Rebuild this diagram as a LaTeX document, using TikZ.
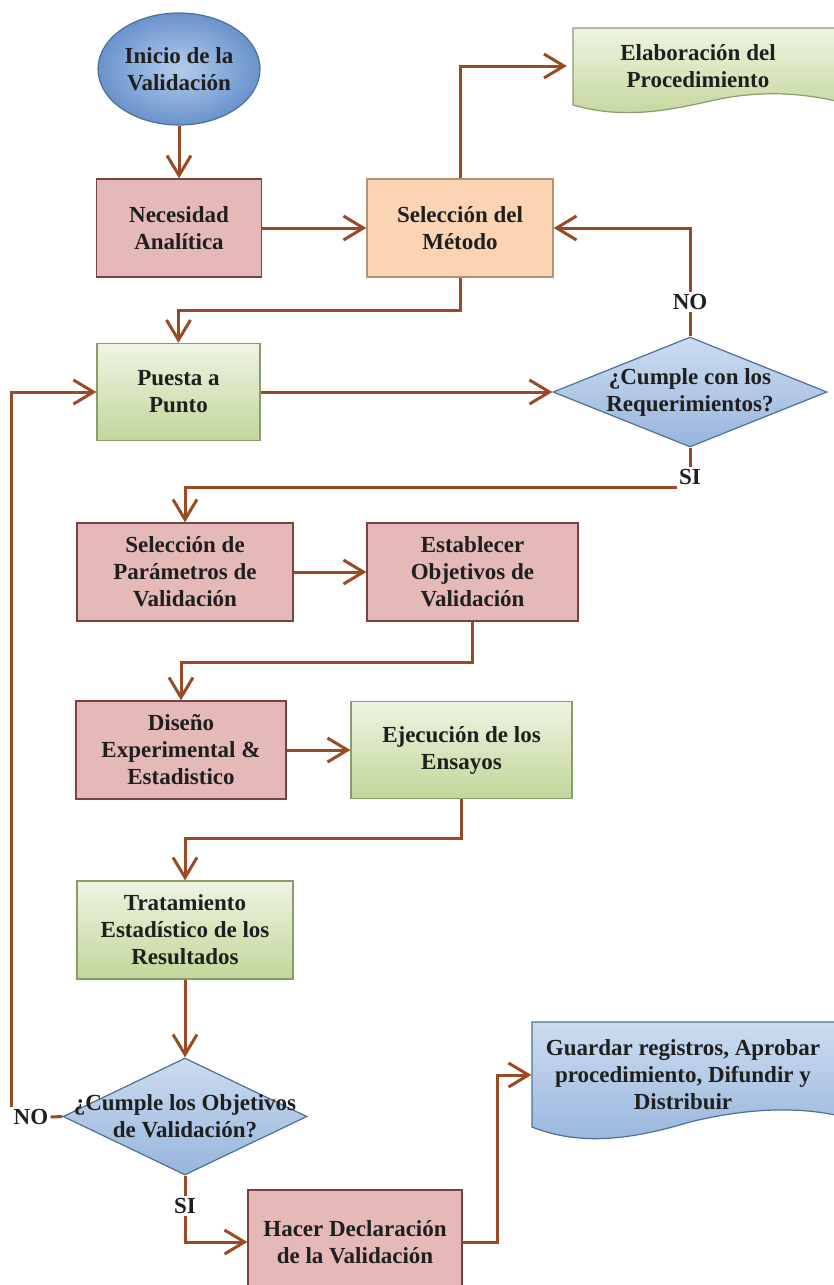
\documentclass[tikz,border=0pt]{standalone}
\usepackage{fontspec}
\setmainfont{Liberation Serif}
\usetikzlibrary{shapes.geometric,arrows.meta,calc}
\definecolor{arr}{HTML}{9A4A24}
\definecolor{textc}{HTML}{1F1F1F}
\definecolor{pinkf}{HTML}{E5B9B7}
\definecolor{pinkd}{HTML}{7A4241}
\definecolor{orangef}{HTML}{FBD4B4}
\definecolor{oranged}{HTML}{B69272}
\definecolor{greent}{HTML}{EEF4E3}
\definecolor{greenb}{HTML}{C2D69A}
\definecolor{greend}{HTML}{8A9C6A}
\definecolor{bluet}{HTML}{CCDCF0}
\definecolor{blueb}{HTML}{98B5DD}
\definecolor{blued}{HTML}{4F6F95}
\definecolor{bluein}{HTML}{B3CCEC}
\definecolor{blueout}{HTML}{6A93CC}
\tikzset{
  txt/.style={font=\fontsize{11.5}{13.5}\selectfont\bfseries, text=textc, align=center},
  lbl/.style={txt, inner sep=1pt},
  box/.style={rectangle, line width=0.6pt, inner sep=0pt, txt},
  pinkbox/.style={box, draw=pinkd, fill=pinkf},
  orangebox/.style={box, draw=oranged, fill=orangef},
  greenbox/.style={box, draw=greend, top color=greent, bottom color=greenb},
  diam/.style={diamond, draw=blued, line width=0.6pt, inner sep=0pt, top color=bluet, bottom color=blueb},
  docgreen/.style={draw=greend, line width=0.6pt, top color=greent, bottom color=greenb},
  docblue/.style={draw=blued, line width=0.6pt, top color=bluet, bottom color=blueb},
  line/.style={draw=arr, line width=1.5pt},
  conn/.style={line, -{Straight Barb[length=10pt,width=12pt,line width=1.5pt]}}
}
\begin{document}
\begin{tikzpicture}[x=0.5pt,y=-0.5pt]
\useasboundingbox (0,0) rectangle (834,1285);
% document shapes
\path[docgreen] (573,28) -- (840,28) -- (840,102) .. controls (815,96) and (770,88) .. (715,100) .. controls (670,110) and (625,120) .. (573,105) -- cycle;
\path[docblue] (532,1022) -- (840,1022) -- (840,1116) .. controls (805,1108) and (755,1106) .. (690,1122) .. controls (630,1140) and (580,1146) .. (532,1127) -- cycle;
% nodes
\node[ellipse, draw=blued, line width=0.6pt, inner sep=0pt, inner color=bluein, outer color=blueout, minimum width=81pt, minimum height=56pt, txt] (inicio) at (179,69) {Inicio de la\\Validación};
\node[pinkbox, minimum width=82.5pt, minimum height=49pt] (nec) at (179,228) {Necesidad\\Analítica};
\node[orangebox, minimum width=93pt, minimum height=49pt] (sel) at (460,228) {Selección del\\Método};
\node[box, minimum width=130.5pt, minimum height=38.5pt] (elab) at (698,66) {Elaboración del\\Procedimiento};
\node[greenbox, minimum width=81.5pt, minimum height=48.5pt] (puesta) at (178.5,392) {Puesta a\\Punto};
\node[diam, minimum width=137pt, minimum height=55pt, label={[txt]center:{¿Cumple con los\\Requerimientos?}}] (d1) at (690,392) {};
\node[lbl, fill=white] (no1) at (690,302) {NO};
\node[lbl] (si1) at (690,477) {SI};
\node[pinkbox, minimum width=108pt, minimum height=49pt] (params) at (185,572) {Selección de\\Parámetros de\\Validación};
\node[pinkbox, minimum width=105.5pt, minimum height=49pt] (estab) at (472.5,572) {Establecer\\Objetivos de\\Validación};
\node[pinkbox, minimum width=105pt, minimum height=49pt] (diseno) at (181,750) {Diseño\\Experimental \&\\Estadistico};
\node[greenbox, minimum width=110.5pt, minimum height=48.5pt] (ejec) at (461.5,750) {Ejecución de los\\Ensayos};
\node[greenbox, minimum width=108pt, minimum height=49pt] (trat) at (185,930) {Tratamiento\\Estadístico de los\\Resultados};
\node[diam, minimum width=122pt, minimum height=58.5pt, label={[txt]center:{¿Cumple los Objetivos\\de Validación?}}] (d2) at (185,1116.5) {};
\node[lbl] (no2) at (31,1117) {NO};
\node[lbl] (si2) at (185,1206) {SI};
\node[pinkbox, minimum width=107pt, minimum height=52pt] (hacer) at (355,1242) {Hacer Declaración\\de la Validación};
\node[box, minimum width=151pt, minimum height=50pt] (guard) at (683,1075) {Guardar registros, Aprobar\\procedimiento, Difundir y\\Distribuir};
% connectors
\draw[conn] (inicio.south) -- (nec.north);
\draw[conn] (nec.east) -- (sel.west);
\draw[conn] (sel.north) |- (elab.west);
\draw[conn] (sel.south) -- ++(0,33) -| (puesta.north);
\draw[conn] (puesta.east) -- (d1.west);
\draw[line] (d1.north) -- (no1.south);
\draw[conn] (no1.north) |- (sel.east);
\draw[line] (d1.south) -- (si1.north);
\draw[conn] (si1.south west) -| (params.north);
\draw[conn] (params.east) -- (estab.west);
\draw[conn] (estab.south) -- ++(0,41) -| (diseno.north);
\draw[conn] (diseno.east) -- (ejec.west);
\draw[conn] (ejec.south) -- ++(0,39) -| (trat.north);
\draw[conn] (trat.south) -- (d2.north);
\draw[line] (d2.west) -- (no2.east);
\draw[conn] (no2.north west) |- (puesta.west);
\draw[line] (d2.south) -- (si2.north);
\draw[conn] (si2.south) |- (hacer.west);
\draw[conn] (hacer.east) -- ++(35,0) |- (guard.west);
\end{tikzpicture}
\end{document}
